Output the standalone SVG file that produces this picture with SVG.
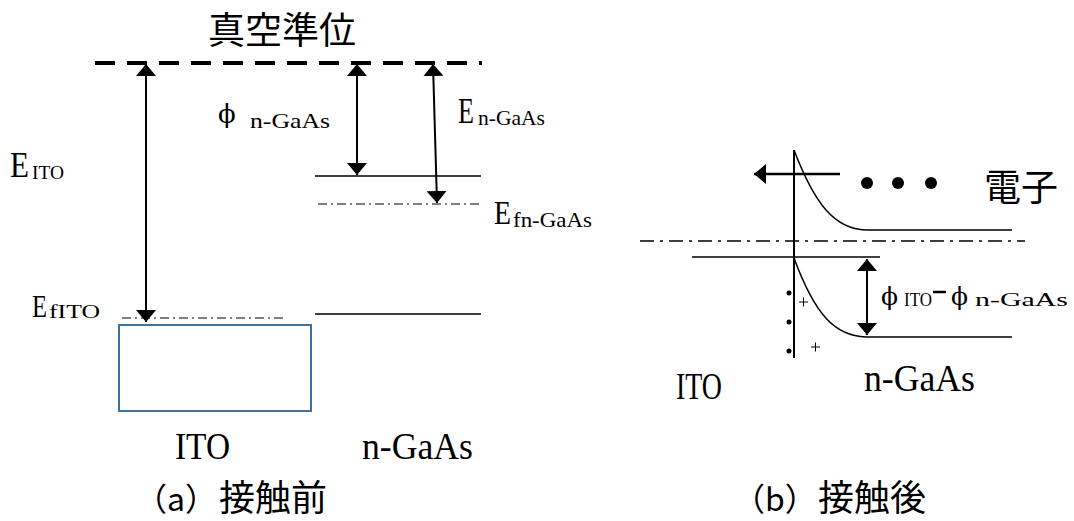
<svg xmlns="http://www.w3.org/2000/svg" width="1074" height="521" viewBox="0 0 1074 521">
<style>
.cjk{font-family:"Noto Sans CJK JP","Noto Sans CJK SC",sans-serif;fill:#000}
.lat{font-family:"Liberation Serif","DejaVu Serif",serif;fill:#000}
.phi{font-family:"DejaVu Serif",serif;fill:#000}
.ln{stroke:#000;fill:none;stroke-width:1.5}
.arr{stroke:#000;stroke-width:2;fill:none;marker-start:url(#ah);marker-end:url(#ah)}
.dd{stroke:#000;fill:none;stroke-width:1.2;stroke-dasharray:9 4 2 4}
</style>
<defs>
<marker id="ah" viewBox="0 0 12 20" refX="12" refY="10" markerWidth="12" markerHeight="20" markerUnits="userSpaceOnUse" orient="auto-start-reverse">
<path d="M0,0 L12,10 L0,20 Z" fill="#000"/>
</marker>
</defs>
<rect width="1074" height="521" fill="#fff"/>

<g id="left-panel">
<g id="vacuum-title"><text class="cjk" x="282" y="44" font-size="37" text-anchor="middle">真空準位</text></g>
<g id="vacuum-level"><line x1="95" y1="63" x2="482" y2="63" stroke="#000" stroke-width="4" stroke-dasharray="20 12"/></g>
<g id="ngaas-cb"><line class="ln" x1="315" y1="176" x2="481" y2="176"/></g>
<g id="ngaas-ef"><line class="dd" x1="318" y1="204" x2="481" y2="204"/></g>
<g id="ngaas-vb"><line class="ln" x1="315" y1="314" x2="481" y2="314"/></g>
<g id="ito-ef"><line class="dd" x1="122" y1="318" x2="285" y2="318"/></g>
<g id="ito-box"><rect x="119" y="325" width="192" height="86" fill="none" stroke="#41719c" stroke-width="2"/></g>

<g id="label-EITO"><text class="lat" x="10" y="177" font-size="36" textLength="19" lengthAdjust="spacingAndGlyphs">E</text><text class="lat" x="32" y="179" font-size="18" textLength="32" lengthAdjust="spacingAndGlyphs">ITO</text></g>
<g id="label-phi-ngaas"><text class="phi" x="218" y="123" font-size="26">ϕ</text><text class="lat" x="250" y="128" font-size="22" textLength="80" lengthAdjust="spacingAndGlyphs">n-GaAs</text></g>
<g id="label-E-ngaas"><text class="lat" x="458" y="123" font-size="36" textLength="16" lengthAdjust="spacingAndGlyphs">E</text><text class="lat" x="478" y="125" font-size="21" textLength="67" lengthAdjust="spacingAndGlyphs">n-GaAs</text></g>
<g id="label-Efn"><text class="lat" x="494" y="224" font-size="34" textLength="17" lengthAdjust="spacingAndGlyphs">E</text><text class="lat" x="513" y="227" font-size="21" textLength="79" lengthAdjust="spacingAndGlyphs">fn-GaAs</text></g>
<g id="label-EfITO"><text class="lat" x="32" y="317" font-size="32" textLength="15" lengthAdjust="spacingAndGlyphs">E</text><text class="lat" x="49" y="318" font-size="18" textLength="51" lengthAdjust="spacingAndGlyphs">fITO</text></g>
<g id="label-ITO-a"><text class="lat" x="175" y="459" font-size="38" textLength="55" lengthAdjust="spacingAndGlyphs">ITO</text></g>
<g id="label-nGaAs-a"><text class="lat" x="362" y="459" font-size="38" textLength="111" lengthAdjust="spacingAndGlyphs">n-GaAs</text></g>
<g id="caption-a"><text class="cjk" x="135" y="511" font-size="32">（a）</text><text class="cjk" x="219" y="511" font-size="36">接触前</text></g>
</g>

<g id="right-panel">
<g id="interface"><line x1="794" y1="150" x2="794" y2="358" stroke="#000" stroke-width="2"/></g>
<g id="cb-bent"><path class="ln" d="M794,150 C815,205 835,229 866,230 L1012,230"/></g>
<g id="ef-b"><line x1="640" y1="241" x2="1025" y2="241" stroke="#000" stroke-width="1.3" stroke-dasharray="14 6 3 6"/></g>
<g id="ito-ef-b"><line class="ln" x1="692" y1="257" x2="880" y2="257"/></g>
<g id="vb-bent"><path class="ln" d="M794,258 C815,315 835,336 866,337 L1012,337"/></g>
<g id="electrons"><circle cx="867" cy="183" r="6"/><circle cx="898" cy="183" r="6"/><circle cx="931" cy="183" r="6"/></g>
<g id="label-electron"><text class="cjk" x="984" y="201" font-size="37">電子</text></g>
<g id="charges"><circle cx="789" cy="293" r="2.5"/><circle cx="789" cy="322" r="2.5"/><circle cx="789" cy="351" r="2.5"/>
<path d="M799,302 h9 M803.5,297.5 v9 M811,347 h9 M815.5,342.5 v9" stroke="#000" stroke-width="1" fill="none"/></g>
<g id="label-barrier"><text class="phi" x="881" y="305" font-size="25">ϕ</text><text class="lat" x="904" y="306" font-size="19" textLength="28" lengthAdjust="spacingAndGlyphs">ITO</text><line x1="933" y1="292" x2="946" y2="292" stroke="#000" stroke-width="2.5"/><text class="phi" x="951" y="305" font-size="25">ϕ</text><text class="lat" x="975" y="306" font-size="19" textLength="93" lengthAdjust="spacingAndGlyphs">n-GaAs</text></g>
<g id="label-ITO-b"><text class="lat" x="676" y="399" font-size="38" textLength="46" lengthAdjust="spacingAndGlyphs">ITO</text></g>
<g id="label-nGaAs-b"><text class="lat" x="864" y="391" font-size="38" textLength="111" lengthAdjust="spacingAndGlyphs">n-GaAs</text></g>
<g id="caption-b"><text class="cjk" x="733" y="511" font-size="32">（b）</text><text class="cjk" x="818" y="511" font-size="36">接触後</text></g>
</g>

<g id="connectors">
<line class="arr" x1="146" y1="64" x2="146" y2="322"/>
<line class="arr" x1="357" y1="64" x2="357" y2="175"/>
<line class="arr" x1="433" y1="64" x2="437" y2="203"/>
<line class="arr" x1="867" y1="259" x2="867" y2="335"/>
<line x1="840" y1="174" x2="754" y2="174" stroke="#000" stroke-width="2.5" marker-end="url(#ah)"/>
</g>
</svg>
